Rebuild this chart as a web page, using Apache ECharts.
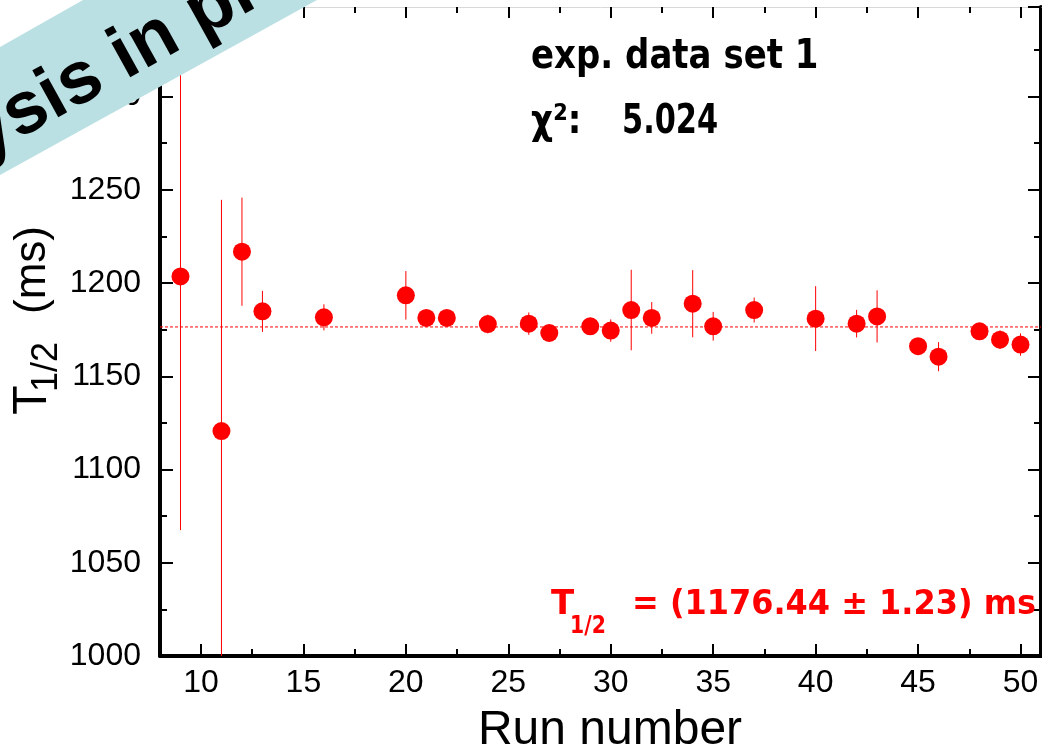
<!DOCTYPE html>
<html>
<head>
<meta charset="utf-8">
<script src="https://cdn.jsdelivr.net/npm/echarts@6/dist/echarts.min.js"></script>
<style>
html,body{margin:0;padding:0;background:#fff;}
#chart{width:1042px;height:753px;}
</style>
</head>
<body>
<div id="chart"></div>
<script>
// ---- data ----
const runNumbers = [9, 11, 12, 13, 16, 20, 21, 22, 24, 26, 27, 29, 30, 31, 32, 34, 35, 37, 40, 42, 43, 45, 46, 48, 49, 50];
const halfLife = [1203.5, 1120.6, 1216.8, 1184.8, 1181.6, 1193.4, 1181.3, 1181.3, 1178.0, 1178.2, 1173.2, 1176.8, 1174.5, 1185.5, 1181.3, 1188.9, 1176.8, 1185.5, 1180.9, 1178.2, 1182.1, 1166.1, 1160.5, 1174.1, 1169.6, 1167.0];
const halfLifeErr = [136, 124, 29, 11, 7, 13, 4, 4, 5, 6, 4, 4, 6, 21.6, 8.5, 18, 7.7, 6.7, 17.4, 7.4, 14, 4, 7.8, 4, 5, 6];
const fitValue = 1176.44;
const xMajorTicks = [10, 15, 20, 25, 30, 35, 40, 45, 50];
const xMinorTicks = [12.5, 17.5, 22.5, 27.5, 32.5, 37.5, 42.5, 47.5];
const bannerText = 'Analysis in progress';

const chart = echarts.init(document.getElementById('chart'), null, {renderer: 'canvas'});

const points = runNumbers.map((x, i) => [x, halfLife[i]]);
const errBars = runNumbers.map((x, i) => [x, halfLife[i] - halfLifeErr[i], halfLife[i] + halfLifeErr[i]]);

const tickFont = {fontFamily: 'Liberation Sans', fontSize: 32, color: '#000'};
const X = {min: 8, max: 51};
const Y = {min: 1000, max: 1348};

function xAx(pos, vals, len, showLabel, lineShow, lineColor) {
  return {
    type: 'value', min: X.min, max: X.max, position: pos,
    axisLine: {show: lineShow, onZero: false, lineStyle: {color: lineColor, width: pos === 'bottom' ? 4 : 1}},
    axisTick: {show: true, inside: true, length: len, customValues: vals, lineStyle: {color: '#000', width: 2}},
    axisLabel: showLabel ? Object.assign({show: true, customValues: vals, margin: 10, lineHeight: 34,
      formatter: v => String(v)}, tickFont) : {show: false},
    splitLine: {show: false}
  };
}
function yAx(pos, showLabel) {
  return {
    type: 'value', min: Y.min, max: Y.max, interval: 50, position: pos,
    axisLine: {show: true, onZero: false, lineStyle: {color: '#000', width: 4}},
    axisTick: {show: true, inside: true, length: 13, lineStyle: {color: '#000', width: 2}},
    minorTick: {show: true, splitNumber: 2, length: 7, lineStyle: {color: '#000', width: 2}},
    axisLabel: showLabel ? Object.assign({show: true, margin: 19, showMaxLabel: false,
      formatter: v => String(v)}, tickFont) : {show: false},
    splitLine: {show: false}, minorSplitLine: {show: false}
  };
}

const option = {
  animation: false,
  backgroundColor: '#fff',
  grid: {left: 160, right: 1, top: 7, bottom: 97, containLabel: false},
  xAxis: [
    xAx('bottom', xMajorTicks, 12, true, true, '#000'),
    xAx('bottom', xMinorTicks, 7, false, false, '#000'),
    xAx('top', xMajorTicks, 11, false, true, '#d8d8d8'),
    xAx('top', xMinorTicks, 6, false, false, '#d8d8d8')
  ],
  yAxis: [yAx('left', true), yAx('right', false)],
  series: [
    {
      type: 'line', xAxisIndex: 0, yAxisIndex: 0, z: 1, silent: true,
      data: [[X.min, fitValue], [X.max, fitValue]],
      symbol: 'none',
      lineStyle: {color: '#ff0000', width: 1, type: [3, 2], opacity: 1}
    },
    {
      type: 'custom', xAxisIndex: 0, yAxisIndex: 0, clip: true, z: 2,
      data: errBars,
      renderItem: function (params, api) {
        const p1 = api.coord([api.value(0), api.value(1)]);
        const p2 = api.coord([api.value(0), api.value(2)]);
        return {type: 'line', shape: {x1: p1[0], y1: p1[1], x2: p2[0], y2: p2[1]},
          style: {stroke: '#ff0000', lineWidth: 1}};
      }
    },
    {
      type: 'scatter', xAxisIndex: 0, yAxisIndex: 0, z: 3,
      symbol: 'circle', symbolSize: 18,
      itemStyle: {color: '#ff0000', opacity: 1},
      data: points
    }
  ],
  graphic: [
    // axis titles
    {type: 'text', x: 610, y: 731, z: 50,
      style: {text: 'Run number', fontFamily: 'Liberation Sans', fontSize: 48, fill: '#000', align: 'center', verticalAlign: 'middle'}},
    {type: 'text', x: 33, y: 400, rotation: Math.PI / 2, z: 50,
      style: {text: 'T', fontFamily: 'Liberation Sans', fontSize: 48, fill: '#000', align: 'center', verticalAlign: 'middle'}},
    {type: 'text', x: 47, y: 367, rotation: Math.PI / 2, z: 50,
      style: {text: '1/2', fontFamily: 'Liberation Sans', fontSize: 36, fill: '#000', align: 'center', verticalAlign: 'middle'}},
    {type: 'text', x: 33, y: 270, rotation: Math.PI / 2, z: 50,
      style: {text: '(ms)', fontFamily: 'Liberation Sans', fontSize: 44, fill: '#000', align: 'center', verticalAlign: 'middle'}},
    // black annotations
    {type: 'text', x: 531, y: 58, scaleX: 0.85, z: 50,
      style: {text: 'exp. data set 1', fontFamily: 'DejaVu Sans', fontWeight: 'bold', fontSize: 40, fill: '#000', align: 'left', verticalAlign: 'middle'}},
    {type: 'text', x: 531, y: 123, scaleX: 0.85, z: 50,
      style: {text: 'χ²:', fontFamily: 'DejaVu Sans', fontWeight: 'bold', fontSize: 40, fill: '#000', align: 'left', verticalAlign: 'middle'}},
    {type: 'text', x: 622, y: 123, scaleX: 0.76, z: 50,
      style: {text: '5.024', fontFamily: 'DejaVu Sans', fontWeight: 'bold', fontSize: 40, fill: '#000', align: 'left', verticalAlign: 'middle'}},
    // red fit result
    {type: 'text', x: 551, y: 605, z: 50,
      style: {text: 'T', fontFamily: 'DejaVu Sans', fontWeight: 'bold', fontSize: 34, fill: '#ff0000', align: 'left', verticalAlign: 'middle'}},
    {type: 'text', x: 570, y: 627, scaleX: 0.85, z: 50,
      style: {text: '1/2', fontFamily: 'DejaVu Sans', fontWeight: 'bold', fontSize: 24, fill: '#ff0000', align: 'left', verticalAlign: 'middle'}},
    {type: 'text', x: 632, y: 605, scaleX: 0.94, z: 50,
      style: {text: '= (1176.44 ± 1.23) ms', fontFamily: 'DejaVu Sans', fontWeight: 'bold', fontSize: 34, fill: '#ff0000', align: 'left', verticalAlign: 'middle'}},
    // banner
    {type: 'polygon', z: 100,
      shape: {points: [[0, 47], [83, 0], [317, 0], [0, 175]]},
      style: {fill: '#bae0e4'}},
    {type: 'text', x: 150, y: 43, rotation: 29 * Math.PI / 180, z: 101,
      style: {text: bannerText, fontFamily: 'Liberation Sans', fontWeight: 'bold', fontSize: 74, fill: '#000', align: 'center', verticalAlign: 'middle'}}
  ]
};
chart.setOption(option);
</script>
</body>
</html>
